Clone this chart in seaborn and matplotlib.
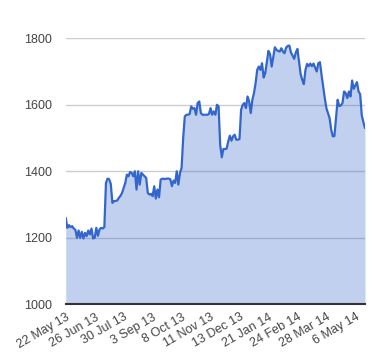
import matplotlib
matplotlib.use("Agg")
import matplotlib.pyplot as plt
import seaborn as sns
import pandas as pd

# closing values, sampled at regular trading-day steps (22 May 13 .. mid May 14)
values = [
    1260, 1230, 1238, 1232, 1235, 1228, 1224, 1200, 1222, 1200,
    1218, 1198, 1215, 1205, 1222, 1210, 1228, 1198, 1200, 1230,
    1206, 1225, 1230, 1228, 1232, 1365, 1378, 1376, 1362, 1305,
    1310, 1311, 1312, 1320, 1326, 1335, 1350, 1365, 1390, 1385,
    1398, 1395, 1385, 1400, 1345, 1400, 1360, 1395, 1390, 1385,
    1380, 1335, 1330, 1332, 1325, 1355, 1318, 1345, 1322, 1375,
    1378, 1377, 1377, 1378, 1378, 1376, 1355, 1372, 1365, 1400,
    1360, 1395, 1410, 1500, 1565, 1570, 1570, 1572, 1595, 1588,
    1590, 1570, 1605, 1610, 1575, 1570, 1570, 1570, 1570, 1572,
    1590, 1570, 1580, 1570, 1600, 1595, 1480, 1442, 1467, 1467,
    1468, 1490, 1507, 1492, 1505, 1510, 1495, 1495, 1497, 1585,
    1600, 1605, 1590, 1625, 1610, 1575, 1615, 1635, 1665, 1705,
    1715, 1705, 1725, 1682, 1695, 1728, 1762, 1752, 1715, 1745,
    1773, 1765, 1762, 1760, 1770, 1760, 1755, 1772, 1777, 1778,
    1757, 1748, 1738, 1757, 1768, 1730, 1692, 1675, 1662, 1705,
    1723, 1716, 1724, 1716, 1724, 1712, 1700, 1725, 1728, 1690,
    1655, 1620, 1590, 1575, 1560, 1525, 1505, 1506, 1560, 1615,
    1596, 1598, 1605, 1640, 1635, 1620, 1640, 1625, 1673, 1648,
    1658, 1668, 1640, 1632, 1568, 1548, 1530,
]
tick_labels = ["22 May 13", "26 Jun 13", "30 Jul 13", "3 Sep 13", "8 Oct 13",
               "11 Nov 13", "13 Dec 13", "21 Jan 14", "24 Feb 14", "28 Mar 14",
               "6 May 14"]
tick_step = 18
y_ticks = [1000, 1200, 1400, 1600, 1800]

sns.set_style("white")
plt.rcParams["font.family"] = ["Liberation Sans", "DejaVu Sans"]

df = pd.DataFrame({"idx": range(len(values)), "value": values})

fig = plt.figure(figsize=(3.8, 3.6), dpi=100)
ax = fig.add_axes([0.173, 0.1547, 0.7875, 0.739])

ax.fill_between(df["idx"], 1000, df["value"], color="#3366CC", alpha=0.3,
                lw=0, zorder=2)
sns.lineplot(data=df, x="idx", y="value", color="#3366CC", lw=1.6, ax=ax,
             zorder=3)

ax.set_xlim(0, len(values) - 1)
ax.set_ylim(1000, 1800)
ax.set_yticks(y_ticks)
ax.set_yticklabels([str(v) for v in y_ticks])
ax.set_xticks([i * tick_step for i in range(len(tick_labels))])
ax.set_xticklabels(tick_labels, rotation=30, ha="right", rotation_mode="anchor")

ax.yaxis.grid(True, color="#cccccc", lw=1)
ax.xaxis.grid(False)
ax.set_axisbelow(True)
ax.tick_params(axis="both", length=0, labelsize=9, colors="#444444")
ax.tick_params(axis="y", pad=10)
ax.tick_params(axis="x", pad=5)

for s in ["left", "right", "top"]:
    ax.spines[s].set_visible(False)
ax.spines["bottom"].set_color("#333333")
ax.spines["bottom"].set_linewidth(1.5)
ax.spines["bottom"].set_zorder(4)

ax.set_xlabel("")
ax.set_ylabel("")

fig.savefig("out.png", dpi=100)
